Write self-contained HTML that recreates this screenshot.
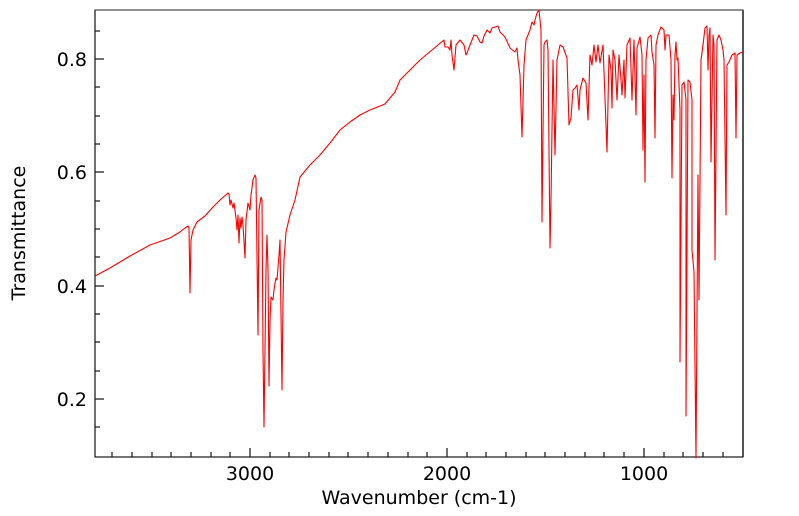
<!DOCTYPE html>
<html><head><style>body{margin:0;background:#fff}svg{display:block}text{font-family:"DejaVu Sans","Liberation Sans",sans-serif;font-size:19px;fill:#000}</style></head>
<body>
<svg width="799" height="516" viewBox="0 0 799 516">
<rect x="95" y="10" width="648" height="447" fill="#fff" stroke="#222" stroke-width="1"/>
<line x1="743" y1="10" x2="743" y2="457" stroke="#555" stroke-width="2"/>
<g stroke="#222" stroke-width="1.3">
<line x1="95" y1="457" x2="743" y2="457"/><line x1="95" y1="10" x2="95" y2="457"/>
<line x1="95" y1="59" x2="104" y2="59"/><line x1="95" y1="172" x2="104" y2="172"/><line x1="95" y1="286" x2="104" y2="286"/><line x1="95" y1="399" x2="104" y2="399"/>
<line x1="95" y1="31" x2="100" y2="31"/><line x1="95" y1="87" x2="100" y2="87"/><line x1="95" y1="116" x2="100" y2="116"/><line x1="95" y1="144" x2="100" y2="144"/><line x1="95" y1="201" x2="100" y2="201"/><line x1="95" y1="229" x2="100" y2="229"/><line x1="95" y1="257" x2="100" y2="257"/><line x1="95" y1="314" x2="100" y2="314"/><line x1="95" y1="342" x2="100" y2="342"/><line x1="95" y1="371" x2="100" y2="371"/><line x1="95" y1="427" x2="100" y2="427"/>
<line x1="250" y1="457" x2="250" y2="448"/><line x1="447" y1="457" x2="447" y2="448"/><line x1="644" y1="457" x2="644" y2="448"/>
<line x1="112" y1="457" x2="112" y2="452"/><line x1="132" y1="457" x2="132" y2="452"/><line x1="152" y1="457" x2="152" y2="452"/><line x1="171" y1="457" x2="171" y2="452"/><line x1="191" y1="457" x2="191" y2="452"/><line x1="211" y1="457" x2="211" y2="452"/><line x1="230" y1="457" x2="230" y2="452"/><line x1="270" y1="457" x2="270" y2="452"/><line x1="289" y1="457" x2="289" y2="452"/><line x1="309" y1="457" x2="309" y2="452"/><line x1="329" y1="457" x2="329" y2="452"/><line x1="348" y1="457" x2="348" y2="452"/><line x1="368" y1="457" x2="368" y2="452"/><line x1="388" y1="457" x2="388" y2="452"/><line x1="408" y1="457" x2="408" y2="452"/><line x1="427" y1="457" x2="427" y2="452"/><line x1="467" y1="457" x2="467" y2="452"/><line x1="486" y1="457" x2="486" y2="452"/><line x1="506" y1="457" x2="506" y2="452"/><line x1="526" y1="457" x2="526" y2="452"/><line x1="545" y1="457" x2="545" y2="452"/><line x1="565" y1="457" x2="565" y2="452"/><line x1="585" y1="457" x2="585" y2="452"/><line x1="604" y1="457" x2="604" y2="452"/><line x1="624" y1="457" x2="624" y2="452"/><line x1="664" y1="457" x2="664" y2="452"/><line x1="683" y1="457" x2="683" y2="452"/><line x1="703" y1="457" x2="703" y2="452"/><line x1="723" y1="457" x2="723" y2="452"/>
</g>
<g text-anchor="end"><text x="87" y="66">0.8</text><text x="87" y="179">0.6</text><text x="87" y="293">0.4</text><text x="87" y="406">0.2</text></g>
<g text-anchor="middle"><text x="250" y="480">3000</text><text x="447" y="480">2000</text><text x="644" y="480">1000</text>
<text x="419" y="504">Wavenumber (cm-1)</text>
<text transform="translate(25,233) rotate(-90)">Transmittance</text></g>
<polyline fill="none" stroke="#f00" stroke-width="1.1" stroke-linejoin="round" points="95,276 110,268 130,256 150,245 170,238 180,232 185,228 188,226 189,228 190,293 191,240 193,230 197,222 205,216 213,207 220,200 228,193 229,194 230,205 231,200 233,208 234,203 236,218 237,230 238,215 239,243 240,218 241,228 242,217 243,225 245,258 246,220 248,203 250,210 251,195 253,180 255,175 256,178 258,335 259,210 261,197 262,200 263,350 264,427 266,270 267,235 268,270 269,386 270,320 271,297 273,300 274,290 275,283 276,278 277,280 279,255 280,240 282,390 283,300 284,260 286,232 290,215 295,200 300,177 310,165 320,155 330,143 340,130 350,122 360,115 370,110 380,106 385,104 390,98 395,92 400,80 410,70 420,60 444,40 445,47 448,47 450,50 451,40 452,55 454,70 456,45 460,40 464,45 466,55 467,53 470,45 474,35 477,36 480,42 482,43 484,36 487,30 490,33 492,28 495,27 498,26 500,32 505,37 510,48 515,52 517,48 518,60 520,75 522,137 524,65 526,40 530,30 532,22 534,25 535,20 537,13 539,10 541,30 542,222 544,45 545,42 547,40 548,50 550,248 551,200 553,60 555,155 557,60 560,45 563,47 567,58 569,125 571,118 573,90 575,88 577,85 579,110 580,90 583,78 586,83 588,120 590,55 592,65 594,45 596,62 598,45 600,63 603,45 607,152 609,55 611,70 612,108 613,50 615,60 617,100 619,55 621,80 622,95 624,60 625,98 627,45 630,38 632,100 634,40 636,115 637,48 640,37 642,55 643,150 644,75 645,182 646,60 648,38 651,35 652,52 654,65 655,138 656,45 658,35 661,27 664,30 665,50 666,35 669,35 671,60 672,178 673,95 674,120 675,55 676,42 677,60 678,58 680,110 680,362 682,85 684,82 686,100 686,416 688,80 690,82 692,100 692,250 694,272 696,458 698,175 699,300 701,60 703,45 705,28 707,26 708,70 709,36 710,28 711,162 713,35 714,45 715,260 717,40 719,35 721,40 723,50 724,60 726,215 727,65 729,62 732,55 735,53 736,138 737,55 740,53 743,52"/>
</svg>
</body></html>
